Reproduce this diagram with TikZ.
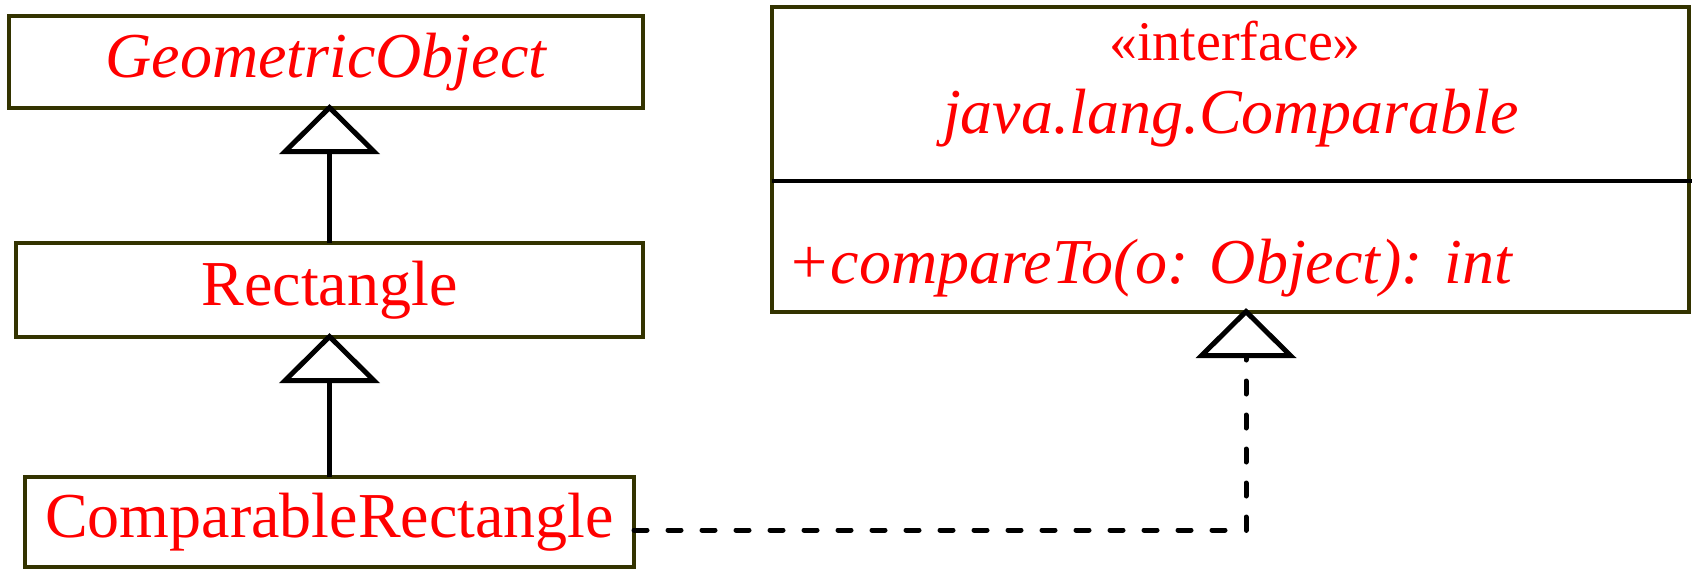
\documentclass[tikz,border=0pt]{standalone}
\usepackage{fontspec}
\setmainfont{Liberation Serif}
\usetikzlibrary{arrows.meta,positioning}
\definecolor{boxline}{RGB}{51,51,0}

\begin{document}
\begin{tikzpicture}[x=0.5pt,y=-0.5pt]
            \tikzstyle{class box}=[draw=boxline,line width=2pt,inner sep=0pt,outer sep=0pt,text=red,font=\fontsize{32}{38}\selectfont]
            \tikzstyle{member}=[inner sep=0pt,text=red,font=\fontsize{32}{38}\selectfont\itshape]
            \tikzstyle{inherits}=[draw,line width=2.5pt,line join=round,shorten >=-2pt,-{Triangle[open,width=50pt,length=25pt]}]
            \tikzstyle{implements}=[inherits,dash pattern=on 6.5pt off 10.5pt,line cap=round]

            \useasboundingbox (0,0) rectangle (1692,568);

            % class hierarchy on the left
            \node(geo)[class box,minimum width=317pt,minimum height=46pt] at (326,62) {\itshape GeometricObject};
            \node(rect)[class box,minimum width=313.5pt,minimum height=47pt] at (329.5,290) {Rectangle};
            \node(comprect)[class box,minimum width=304.5pt,minimum height=45pt] at (329.5,522) {ComparableRectangle};

            % the interface with its one method
            \node(iface)[class box,minimum width=458.5pt,minimum height=152.5pt] at (1230.5,159.5) {};
            \node(stereo)[member,anchor=base,font=\fontsize{28}{34}\selectfont] at (1235,60) {«interface»};
            \node(ifname)[member,anchor=base] at (1231,133) {java.lang.Comparable};
            \node(method)[member,anchor=base west] at (787,283) {+compareTo(o: Object): int};
            \coordinate (split) at (0,181);
            \draw[line width=2pt] (iface.west |- split) -- ([xshift=1.5pt]iface.east |- split);

            % edges
            \draw[inherits] (rect.north) -- (rect.north |- geo.south);
            \draw[inherits] (comprect.north) -- (comprect.north |- rect.south);
            \coordinate (bend) at (1246,530);
            \draw[implements] (comprect.east |- bend) -- (bend) -- (bend |- iface.south);
\end{tikzpicture}
\end{document}
